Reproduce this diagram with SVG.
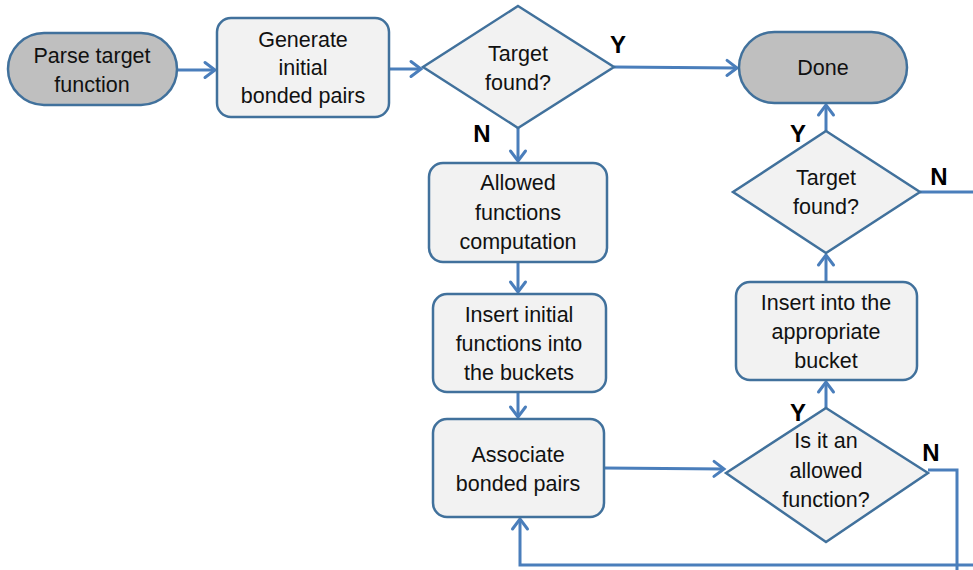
<svg xmlns="http://www.w3.org/2000/svg" width="973" height="570" viewBox="0 0 973 570">
  <defs>
    <marker id="arrow" markerUnits="userSpaceOnUse" markerWidth="20" markerHeight="20" viewBox="-13 -10 16 20" refX="0" refY="0" orient="auto">
      <path d="M-10,-7.5 L0,0 L-10,7.5" fill="none" stroke="#4a7ebb" stroke-width="3" stroke-linecap="round" stroke-linejoin="miter"/>
    </marker>
    <style>
      .term { fill: #bfbfbf; stroke: #41719c; stroke-width: 2.5; }
      .proc { fill: #f2f2f2; stroke: #41719c; stroke-width: 2.5; }
      .lbl { font-family: "Liberation Sans", Arial, sans-serif; font-size: 21.5px; fill: #111; text-anchor: middle; }
      .yn { font-family: "Liberation Sans", Arial, sans-serif; font-size: 24px; font-weight: bold; fill: #000; text-anchor: middle; }
      .edge { fill: none; stroke: #4a7ebb; stroke-width: 3; }
      .edge.arr { marker-end: url(#arrow); }
    </style>
  </defs>
  <rect width="973" height="570" fill="#ffffff"/>

  <!-- connectors -->
  <g id="connectors">
    <path class="edge arr" d="M177,70 H215"/>
    <path class="edge arr" d="M389,69 H421"/>
    <path class="edge arr" d="M614,67 L737,68"/>
    <path class="edge arr" d="M518,128 V161"/>
    <path class="edge arr" d="M518,262 V292"/>
    <path class="edge arr" d="M518,392 V417"/>
    <path class="edge arr" d="M604,468 L724,469"/>
    <path class="edge arr" d="M826,408 V382"/>
    <path class="edge arr" d="M826,282 V255"/>
    <path class="edge arr" d="M826,131 V105"/>
    <path class="edge" d="M920,192 H973"/>
    <path class="edge" d="M928,470 H957 V570"/>
    <path class="edge arr" d="M973,565 H520 V519"/>
  </g>

  <!-- nodes -->
  <g id="parse">
    <rect class="term" x="8" y="33" width="169" height="72" rx="36" ry="36"/>
    <text class="lbl" x="92" y="63">Parse target</text>
    <text class="lbl" x="92" y="92">function</text>
  </g>

  <g id="generate">
    <rect class="proc" x="217" y="18" width="172" height="99" rx="14" ry="14"/>
    <text class="lbl" x="303" y="47">Generate</text>
    <text class="lbl" x="303" y="75">initial</text>
    <text class="lbl" x="303" y="103">bonded pairs</text>
  </g>

  <g id="found1">
    <polygon class="proc" points="518,6 614,67 518,128 423,67"/>
    <text class="lbl" x="518" y="61">Target</text>
    <text class="lbl" x="518" y="90">found?</text>
  </g>

  <g id="done">
    <rect class="term" x="739" y="32" width="168" height="71" rx="35.5" ry="35.5"/>
    <text class="lbl" x="823" y="75">Done</text>
  </g>

  <g id="allowed">
    <rect class="proc" x="429" y="163" width="178" height="99" rx="14" ry="14"/>
    <text class="lbl" x="518" y="190">Allowed</text>
    <text class="lbl" x="518" y="220">functions</text>
    <text class="lbl" x="518" y="249">computation</text>
  </g>

  <g id="insert-initial">
    <rect class="proc" x="433" y="294" width="173" height="98" rx="14" ry="14"/>
    <text class="lbl" x="519" y="322">Insert initial</text>
    <text class="lbl" x="519" y="351">functions into</text>
    <text class="lbl" x="519" y="380">the buckets</text>
  </g>

  <g id="associate">
    <rect class="proc" x="433" y="419" width="171" height="98" rx="14" ry="14"/>
    <text class="lbl" x="518" y="462">Associate</text>
    <text class="lbl" x="518" y="491">bonded pairs</text>
  </g>

  <g id="allowed-check">
    <polygon class="proc" points="826,408 928,473 826,542 726,473"/>
    <text class="lbl" x="826" y="448">Is it an</text>
    <text class="lbl" x="826" y="478">allowed</text>
    <text class="lbl" x="826" y="507">function?</text>
  </g>

  <g id="insert-bucket">
    <rect class="proc" x="736" y="282" width="181" height="98" rx="14" ry="14"/>
    <text class="lbl" x="826" y="310">Insert into the</text>
    <text class="lbl" x="826" y="339">appropriate</text>
    <text class="lbl" x="826" y="368">bucket</text>
  </g>

  <g id="found2">
    <polygon class="proc" points="826,131 920,192 826,253 733,192"/>
    <text class="lbl" x="826" y="185">Target</text>
    <text class="lbl" x="826" y="214">found?</text>
  </g>

  <!-- branch labels -->
  <g id="branch-labels">
    <text class="yn" x="618" y="53">Y</text>
    <text class="yn" x="482" y="142">N</text>
    <text class="yn" x="798" y="142">Y</text>
    <text class="yn" x="939" y="185">N</text>
    <text class="yn" x="798" y="421">Y</text>
    <text class="yn" x="931" y="461">N</text>
  </g>
</svg>
